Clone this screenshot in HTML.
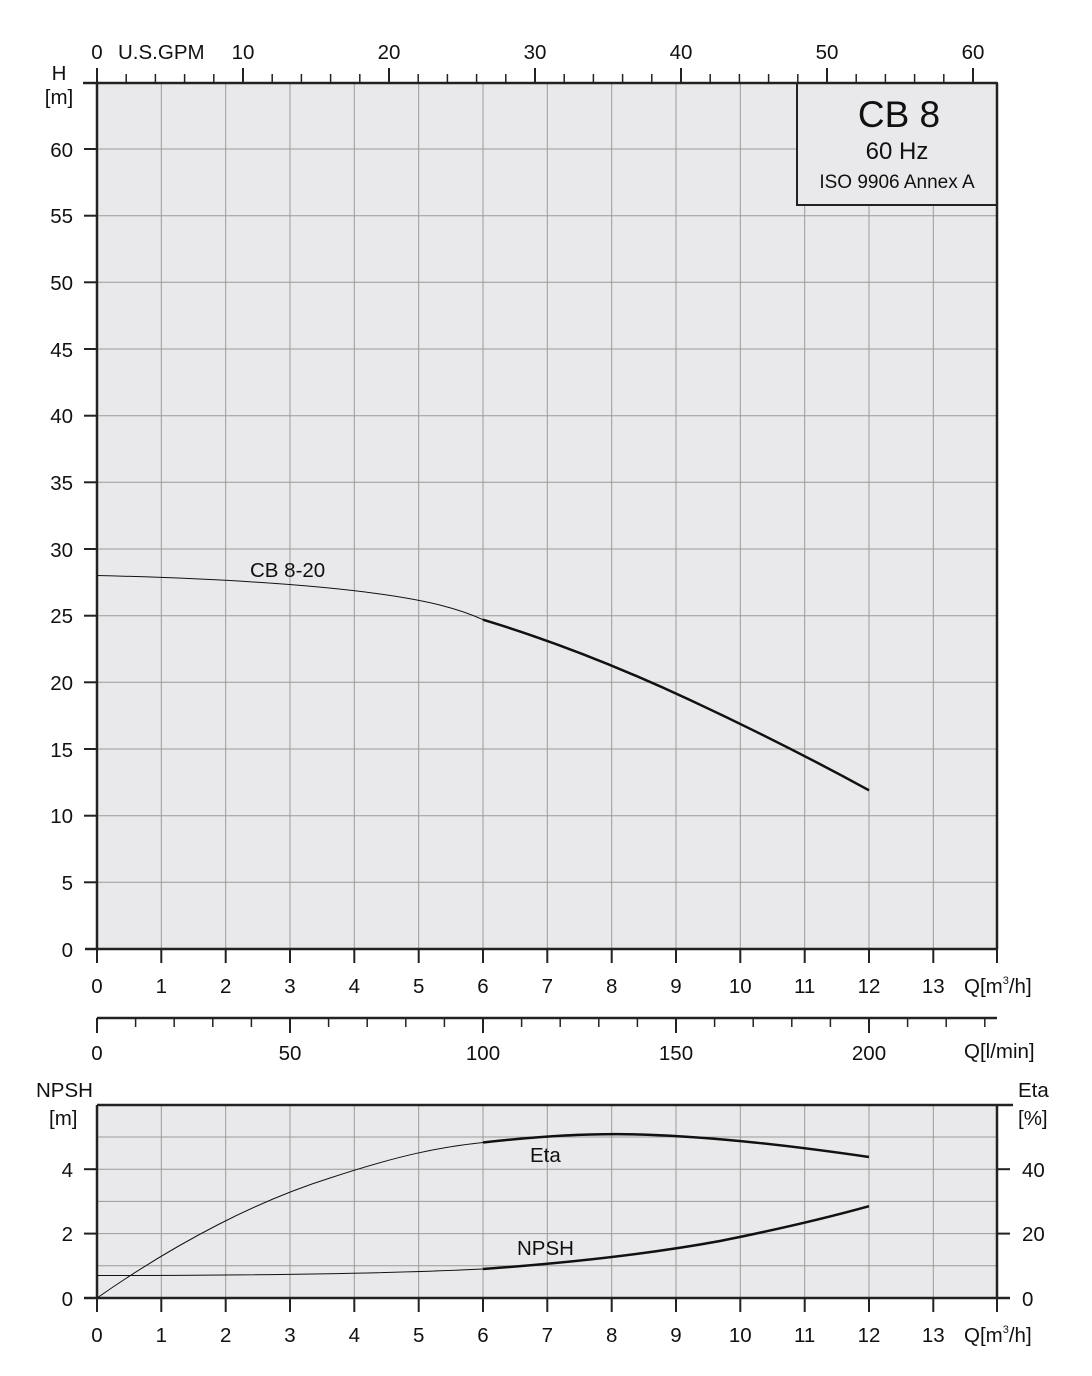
<!DOCTYPE html>
<html><head><meta charset="utf-8"><style>
html,body{margin:0;padding:0;background:#fff;}
svg{display:block;font-family:"Liberation Sans",Arial,sans-serif;}
</style></head><body>
<svg width="1092" height="1376" viewBox="0 0 1092 1376" xmlns="http://www.w3.org/2000/svg">
<rect x="97" y="83" width="900" height="866" fill="#e9e9eb"/>
<g stroke="#9a9a9a" stroke-width="1">
<line x1="161.3" y1="83" x2="161.3" y2="949"/><line x1="225.7" y1="83" x2="225.7" y2="949"/>
<line x1="290" y1="83" x2="290" y2="949"/><line x1="354.3" y1="83" x2="354.3" y2="949"/>
<line x1="418.7" y1="83" x2="418.7" y2="949"/><line x1="483" y1="83" x2="483" y2="949"/>
<line x1="547.3" y1="83" x2="547.3" y2="949"/><line x1="611.7" y1="83" x2="611.7" y2="949"/>
<line x1="676" y1="83" x2="676" y2="949"/><line x1="740.3" y1="83" x2="740.3" y2="949"/>
<line x1="804.7" y1="83" x2="804.7" y2="949"/><line x1="869" y1="83" x2="869" y2="949"/>
<line x1="933.3" y1="83" x2="933.3" y2="949"/>
<line x1="97" y1="882.3" x2="997" y2="882.3"/><line x1="97" y1="815.7" x2="997" y2="815.7"/>
<line x1="97" y1="749" x2="997" y2="749"/><line x1="97" y1="682.3" x2="997" y2="682.3"/>
<line x1="97" y1="615.7" x2="997" y2="615.7"/><line x1="97" y1="549" x2="997" y2="549"/>
<line x1="97" y1="482.3" x2="997" y2="482.3"/><line x1="97" y1="415.7" x2="997" y2="415.7"/>
<line x1="97" y1="349" x2="997" y2="349"/><line x1="97" y1="282.3" x2="997" y2="282.3"/>
<line x1="97" y1="215.7" x2="997" y2="215.7"/><line x1="97" y1="149" x2="997" y2="149"/>
</g>
<rect x="797" y="83" width="200" height="122" fill="#e9e9eb" stroke="#222" stroke-width="2"/>
<text x="899" y="127" font-size="37" text-anchor="middle" fill="#111">CB 8</text>
<text x="897" y="159" font-size="24" text-anchor="middle" fill="#111">60 Hz</text>
<text x="897" y="188" font-size="19" text-anchor="middle" fill="#111">ISO 9906 Annex A</text>
<g stroke="#222" stroke-width="2.5" fill="none">
<line x1="97" y1="83" x2="97" y2="949"/>
<line x1="997" y1="83" x2="997" y2="949"/>
<line x1="83" y1="83" x2="997" y2="83"/>
<line x1="85" y1="949" x2="997" y2="949"/>
</g>
<g stroke="#222" stroke-width="2">
<line x1="84" y1="882.3" x2="97" y2="882.3"/><line x1="84" y1="815.7" x2="97" y2="815.7"/>
<line x1="84" y1="749" x2="97" y2="749"/><line x1="84" y1="682.3" x2="97" y2="682.3"/>
<line x1="84" y1="615.7" x2="97" y2="615.7"/><line x1="84" y1="549" x2="97" y2="549"/>
<line x1="84" y1="482.3" x2="97" y2="482.3"/><line x1="84" y1="415.7" x2="97" y2="415.7"/>
<line x1="84" y1="349" x2="97" y2="349"/><line x1="84" y1="282.3" x2="97" y2="282.3"/>
<line x1="84" y1="215.7" x2="97" y2="215.7"/><line x1="84" y1="149" x2="97" y2="149"/>
</g>
<g font-size="20.5" fill="#111" text-anchor="end">
<text x="73" y="957">0</text><text x="73" y="890">5</text><text x="73" y="823">10</text>
<text x="73" y="757">15</text><text x="73" y="690">20</text><text x="73" y="623">25</text>
<text x="73" y="557">30</text><text x="73" y="490">35</text><text x="73" y="423">40</text>
<text x="73" y="357">45</text><text x="73" y="290">50</text><text x="73" y="223">55</text>
<text x="73" y="157">60</text>
</g>
<text x="59" y="80" font-size="20.5" text-anchor="middle" fill="#111">H</text>
<text x="59" y="104" font-size="20.5" text-anchor="middle" fill="#111">[m]</text>
<g stroke="#222" stroke-width="2">
<line x1="97" y1="949" x2="97" y2="963"/><line x1="161.3" y1="949" x2="161.3" y2="963"/>
<line x1="225.7" y1="949" x2="225.7" y2="963"/><line x1="290" y1="949" x2="290" y2="963"/>
<line x1="354.3" y1="949" x2="354.3" y2="963"/><line x1="418.7" y1="949" x2="418.7" y2="963"/>
<line x1="483" y1="949" x2="483" y2="963"/><line x1="547.3" y1="949" x2="547.3" y2="963"/>
<line x1="611.7" y1="949" x2="611.7" y2="963"/><line x1="676" y1="949" x2="676" y2="963"/>
<line x1="740.3" y1="949" x2="740.3" y2="963"/><line x1="804.7" y1="949" x2="804.7" y2="963"/>
<line x1="869" y1="949" x2="869" y2="963"/><line x1="933.3" y1="949" x2="933.3" y2="963"/>
<line x1="997" y1="949" x2="997" y2="963"/>
</g>
<g font-size="20.5" fill="#111" text-anchor="middle">
<text x="97" y="993">0</text><text x="161.3" y="993">1</text><text x="225.7" y="993">2</text>
<text x="290" y="993">3</text><text x="354.3" y="993">4</text><text x="418.7" y="993">5</text>
<text x="483" y="993">6</text><text x="547.3" y="993">7</text><text x="611.7" y="993">8</text>
<text x="676" y="993">9</text><text x="740.3" y="993">10</text><text x="804.7" y="993">11</text>
<text x="869" y="993">12</text><text x="933.3" y="993">13</text>
</g>
<text x="964" y="993" font-size="20.5" fill="#111">Q[m<tspan font-size="11" dy="-9">3</tspan><tspan dy="9">/h]</tspan></text>
<g stroke="#222" stroke-width="1.5">
<line x1="97" y1="83" x2="97" y2="68" stroke-width="2"/><line x1="126.2" y1="83" x2="126.2" y2="74"/>
<line x1="155.4" y1="83" x2="155.4" y2="74"/><line x1="184.6" y1="83" x2="184.6" y2="74"/>
<line x1="213.8" y1="83" x2="213.8" y2="74"/><line x1="243" y1="83" x2="243" y2="68" stroke-width="2"/>
<line x1="272.2" y1="83" x2="272.2" y2="74"/><line x1="301.4" y1="83" x2="301.4" y2="74"/>
<line x1="330.6" y1="83" x2="330.6" y2="74"/><line x1="359.8" y1="83" x2="359.8" y2="74"/>
<line x1="389" y1="83" x2="389" y2="68" stroke-width="2"/><line x1="418.2" y1="83" x2="418.2" y2="74"/>
<line x1="447.4" y1="83" x2="447.4" y2="74"/><line x1="476.6" y1="83" x2="476.6" y2="74"/>
<line x1="505.8" y1="83" x2="505.8" y2="74"/><line x1="535" y1="83" x2="535" y2="68" stroke-width="2"/>
<line x1="564.2" y1="83" x2="564.2" y2="74"/><line x1="593.4" y1="83" x2="593.4" y2="74"/>
<line x1="622.6" y1="83" x2="622.6" y2="74"/><line x1="651.8" y1="83" x2="651.8" y2="74"/>
<line x1="681" y1="83" x2="681" y2="68" stroke-width="2"/><line x1="710.2" y1="83" x2="710.2" y2="74"/>
<line x1="739.4" y1="83" x2="739.4" y2="74"/><line x1="768.6" y1="83" x2="768.6" y2="74"/>
<line x1="797.8" y1="83" x2="797.8" y2="74"/><line x1="827" y1="83" x2="827" y2="68" stroke-width="2"/>
<line x1="856.2" y1="83" x2="856.2" y2="74"/><line x1="885.4" y1="83" x2="885.4" y2="74"/>
<line x1="914.6" y1="83" x2="914.6" y2="74"/><line x1="943.8" y1="83" x2="943.8" y2="74"/>
<line x1="973" y1="83" x2="973" y2="68" stroke-width="2"/>
</g>
<g font-size="20.5" fill="#111" text-anchor="middle">
<text x="97" y="59">0</text><text x="243" y="59">10</text><text x="389" y="59">20</text>
<text x="535" y="59">30</text><text x="681" y="59">40</text><text x="827" y="59">50</text>
<text x="973" y="59">60</text>
</g>
<text x="118" y="59" font-size="20.5" fill="#111">U.S.GPM</text>
<g stroke="#222" stroke-width="1.5">
<line x1="97" y1="1018" x2="997" y2="1018" stroke-width="2.5"/>
<line x1="97" y1="1018" x2="97" y2="1033" stroke-width="2"/>
<line x1="135.6" y1="1018" x2="135.6" y2="1027"/><line x1="174.2" y1="1018" x2="174.2" y2="1027"/>
<line x1="212.8" y1="1018" x2="212.8" y2="1027"/><line x1="251.4" y1="1018" x2="251.4" y2="1027"/>
<line x1="290" y1="1018" x2="290" y2="1033" stroke-width="2"/>
<line x1="328.6" y1="1018" x2="328.6" y2="1027"/><line x1="367.2" y1="1018" x2="367.2" y2="1027"/>
<line x1="405.8" y1="1018" x2="405.8" y2="1027"/><line x1="444.4" y1="1018" x2="444.4" y2="1027"/>
<line x1="483" y1="1018" x2="483" y2="1033" stroke-width="2"/>
<line x1="521.6" y1="1018" x2="521.6" y2="1027"/><line x1="560.2" y1="1018" x2="560.2" y2="1027"/>
<line x1="598.8" y1="1018" x2="598.8" y2="1027"/><line x1="637.4" y1="1018" x2="637.4" y2="1027"/>
<line x1="676" y1="1018" x2="676" y2="1033" stroke-width="2"/>
<line x1="714.6" y1="1018" x2="714.6" y2="1027"/><line x1="753.2" y1="1018" x2="753.2" y2="1027"/>
<line x1="791.8" y1="1018" x2="791.8" y2="1027"/><line x1="830.4" y1="1018" x2="830.4" y2="1027"/>
<line x1="869" y1="1018" x2="869" y2="1033" stroke-width="2"/>
<line x1="907.6" y1="1018" x2="907.6" y2="1027"/><line x1="946.2" y1="1018" x2="946.2" y2="1027"/>
<line x1="984.8" y1="1018" x2="984.8" y2="1027"/>
</g>
<g font-size="20.5" fill="#111" text-anchor="middle">
<text x="97" y="1060">0</text><text x="290" y="1060">50</text><text x="483" y="1060">100</text>
<text x="676" y="1060">150</text><text x="869" y="1060">200</text>
</g>
<text x="964" y="1058" font-size="20.5" fill="#111">Q[l/min]</text>
<path fill="none" stroke="#111" stroke-width="1" d="M97,575.5 C200,578 300,583 380,594 C430,601 460,609 483,619.7"/>
<path fill="none" stroke="#111" stroke-width="2.5" d="M483,619.7 C560,643 630,672 690,700 C750,728 810,758 869,790.3"/>
<text x="250" y="577" font-size="20.5" fill="#111">CB 8-20</text>
<rect x="97" y="1105" width="900" height="193" fill="#e9e9eb"/>
<g stroke="#9a9a9a" stroke-width="1">
<line x1="161.3" y1="1105" x2="161.3" y2="1298"/><line x1="225.7" y1="1105" x2="225.7" y2="1298"/>
<line x1="290" y1="1105" x2="290" y2="1298"/><line x1="354.3" y1="1105" x2="354.3" y2="1298"/>
<line x1="418.7" y1="1105" x2="418.7" y2="1298"/><line x1="483" y1="1105" x2="483" y2="1298"/>
<line x1="547.3" y1="1105" x2="547.3" y2="1298"/><line x1="611.7" y1="1105" x2="611.7" y2="1298"/>
<line x1="676" y1="1105" x2="676" y2="1298"/><line x1="740.3" y1="1105" x2="740.3" y2="1298"/>
<line x1="804.7" y1="1105" x2="804.7" y2="1298"/><line x1="869" y1="1105" x2="869" y2="1298"/>
<line x1="933.3" y1="1105" x2="933.3" y2="1298"/>
<line x1="97" y1="1265.8" x2="997" y2="1265.8"/><line x1="97" y1="1233.6" x2="997" y2="1233.6"/>
<line x1="97" y1="1201.4" x2="997" y2="1201.4"/><line x1="97" y1="1169.2" x2="997" y2="1169.2"/>
<line x1="97" y1="1137" x2="997" y2="1137"/>
</g>
<g stroke="#222" stroke-width="2.5" fill="none">
<line x1="97" y1="1105" x2="97" y2="1298"/>
<line x1="997" y1="1105" x2="997" y2="1298"/>
<line x1="97" y1="1105" x2="1013" y2="1105"/>
<line x1="84" y1="1298" x2="1010" y2="1298"/>
</g>
<g stroke="#222" stroke-width="2">
<line x1="84" y1="1233.6" x2="97" y2="1233.6"/><line x1="84" y1="1169.2" x2="97" y2="1169.2"/>
<line x1="997" y1="1233.6" x2="1010" y2="1233.6"/><line x1="997" y1="1169.2" x2="1010" y2="1169.2"/>
<line x1="97" y1="1298" x2="97" y2="1312"/><line x1="161.3" y1="1298" x2="161.3" y2="1312"/>
<line x1="225.7" y1="1298" x2="225.7" y2="1312"/><line x1="290" y1="1298" x2="290" y2="1312"/>
<line x1="354.3" y1="1298" x2="354.3" y2="1312"/><line x1="418.7" y1="1298" x2="418.7" y2="1312"/>
<line x1="483" y1="1298" x2="483" y2="1312"/><line x1="547.3" y1="1298" x2="547.3" y2="1312"/>
<line x1="611.7" y1="1298" x2="611.7" y2="1312"/><line x1="676" y1="1298" x2="676" y2="1312"/>
<line x1="740.3" y1="1298" x2="740.3" y2="1312"/><line x1="804.7" y1="1298" x2="804.7" y2="1312"/>
<line x1="869" y1="1298" x2="869" y2="1312"/><line x1="933.3" y1="1298" x2="933.3" y2="1312"/>
<line x1="997" y1="1298" x2="997" y2="1312"/>
</g>
<g font-size="20.5" fill="#111" text-anchor="end">
<text x="73" y="1306">0</text><text x="73" y="1241">2</text><text x="73" y="1177">4</text>
</g>
<g font-size="20.5" fill="#111">
<text x="1022" y="1306">0</text><text x="1022" y="1241">20</text><text x="1022" y="1177">40</text>
<text x="1018" y="1097">Eta</text><text x="1018" y="1125">[%]</text>
<text x="36" y="1097">NPSH</text><text x="49" y="1125">[m]</text>
</g>
<g font-size="20.5" fill="#111" text-anchor="middle">
<text x="97" y="1342">0</text><text x="161.3" y="1342">1</text><text x="225.7" y="1342">2</text>
<text x="290" y="1342">3</text><text x="354.3" y="1342">4</text><text x="418.7" y="1342">5</text>
<text x="483" y="1342">6</text><text x="547.3" y="1342">7</text><text x="611.7" y="1342">8</text>
<text x="676" y="1342">9</text><text x="740.3" y="1342">10</text><text x="804.7" y="1342">11</text>
<text x="869" y="1342">12</text><text x="933.3" y="1342">13</text>
</g>
<text x="964" y="1342" font-size="20.5" fill="#111">Q[m<tspan font-size="11" dy="-9">3</tspan><tspan dy="9">/h]</tspan></text>
<path fill="none" stroke="#111" stroke-width="1" d="M97,1298 C180,1240 260,1200 330,1178 C400,1155 440,1147 483,1142.5"/>
<path fill="none" stroke="#111" stroke-width="2.5" d="M483,1142.5 C540,1136 590,1133 640,1134.5 C720,1137 800,1147 869,1157"/>
<text x="530" y="1162" font-size="20.5" fill="#111">Eta</text>
<path fill="none" stroke="#111" stroke-width="1" d="M97,1275.5 C250,1275.5 380,1274 483,1269"/>
<path fill="none" stroke="#111" stroke-width="2.5" d="M483,1269 C580,1262 660,1252 720,1241 C780,1229 830,1217 869,1206.2"/>
<text x="517" y="1255" font-size="20.5" fill="#111">NPSH</text>
</svg>
</body></html>
